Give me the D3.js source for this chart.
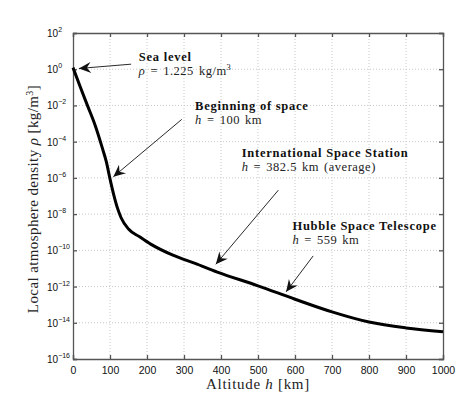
<!DOCTYPE html>
<html>
<head>
<meta charset="utf-8">
<script src="https://cdn.jsdelivr.net/npm/d3@7"></script>
<style>
  body { margin: 0; background: #fff; }
  svg { display: block; }
</style>
</head>
<body>
<script>
// altitude [km] and local density [kg/m^3]
const altitude = [0, 20, 40, 60, 80, 90, 100, 110, 120, 130, 150, 180, 210, 270, 330, 390, 500, 600, 700, 800, 900, 1000];
const density = [1.225, 1.0e-1, 8.9e-3, 7.9e-4, 4.0e-5, 7.9e-6, 8.9e-7, 1.2e-7, 2.2e-8, 6.3e-9, 1.5e-9, 5.6e-10,
                 2.2e-10, 5.4e-11, 1.9e-11, 6.3e-12, 1.1e-12, 2.0e-13, 4.0e-14, 1.1e-14, 5.2e-15, 3.2e-15];

const xTicks = [0, 100, 200, 300, 400, 500, 600, 700, 800, 900, 1000];
const yExponents = [2, 0, -2, -4, -6, -8, -10, -12, -14, -16];

// annotations: arrow tip, arrow tail and text anchor in data units
const notes = [
  { title: "Sea level", sub: "rho", tip: [16, 1.1], tail: [157, 1.9], text: [178, 2.8] },
  { title: "Beginning of space", sub: "h = 100 km", tip: [109, 1.15e-6], tail: [294, 1.7e-3], text: [330, 5.6e-3] },
  { title: "International Space Station", sub: "h = 382.5 km (average)", tip: [386, 1.7e-11], tail: [555, 2.1e-7], text: [456, 1.4e-5] },
  { title: "Hubble Space Telescope", sub: "h = 559 km", tip: [576, 5.1e-13], tail: [649, 4.9e-11], text: [593, 1.3e-9] }
];

const width = 474;
const height = 397;
const margin = { top: 33, right: 31, bottom: 38, left: 73 };
const w = width - margin.left - margin.right;
const h = height - margin.top - margin.bottom;

const serif = "'Liberation Serif', 'DejaVu Serif', serif";
const sans = "'Liberation Sans', Arial, sans-serif";

const svg = d3.select("body").append("svg")
    .attr("width", width)
    .attr("height", height);

svg.append("defs").append("marker")
    .attr("id", "head")
    .attr("viewBox", "-13 -6 15 12")
    .attr("refX", 0).attr("refY", 0)
    .attr("markerWidth", 15).attr("markerHeight", 12)
    .attr("markerUnits", "userSpaceOnUse")
    .attr("orient", "auto")
    .append("path")
    .attr("d", "M0,0 L-12,-5.5 L-8,0 L-12,5.5 Z")
    .attr("fill", "#111");

const g = svg.append("g")
    .attr("transform", `translate(${margin.left},${margin.top})`);

const x = d3.scaleLinear().domain([0, 1000]).range([0, w]);
const y = d3.scaleLog().domain([1e-16, 1e2]).range([h, 0]);

// dotted grid
g.append("g").selectAll("line").data(xTicks.slice(1, -1)).enter().append("line")
    .attr("x1", d => x(d)).attr("x2", d => x(d))
    .attr("y1", 0).attr("y2", h)
    .attr("stroke", "#c8c8c8").attr("stroke-width", 1)
    .attr("stroke-dasharray", "1,2");
g.append("g").selectAll("line").data(yExponents.slice(1, -1)).enter().append("line")
    .attr("x1", 0).attr("x2", w)
    .attr("y1", d => y(Math.pow(10, d))).attr("y2", d => y(Math.pow(10, d)))
    .attr("stroke", "#c8c8c8").attr("stroke-width", 1)
    .attr("stroke-dasharray", "1,2");

// axes with inward ticks on all four sides
const yVals = yExponents.map(e => Math.pow(10, e));
g.append("g").attr("transform", `translate(0,${h})`)
    .call(d3.axisBottom(x).tickValues(xTicks).tickSize(-4).tickPadding(8).tickFormat(d3.format("d")))
    .call(a => a.selectAll("text").attr("font-family", sans).attr("font-size", 10.5).attr("fill", "#111"));
g.append("g")
    .call(d3.axisTop(x).tickValues(xTicks).tickSize(-4).tickFormat(""));
g.append("g")
    .call(d3.axisLeft(y).tickValues(yVals).tickSize(-4).tickFormat(""));
g.append("g").attr("transform", `translate(${w},0)`)
    .call(d3.axisRight(y).tickValues(yVals).tickSize(-4).tickFormat(""));
g.selectAll(".domain, .tick line").attr("stroke", "#555").attr("stroke-width", 1.3);

// y tick labels: 10 with superscript exponent, left aligned
const yl = g.append("g").selectAll("text").data(yExponents).enter().append("text")
    .attr("x", -26)
    .attr("y", d => y(Math.pow(10, d)) + 4)
    .attr("font-family", sans).attr("font-size", 10).attr("fill", "#111");
yl.append("tspan").text("10");
yl.append("tspan").attr("dy", -5).attr("font-size", 7).text(d => d < 0 ? "\u2212" + (-d) : d);

// density curve
const pts = altitude.map((a, i) => [a, density[i]]);
g.append("path")
    .datum(pts)
    .attr("fill", "none")
    .attr("stroke", "#000")
    .attr("stroke-width", 3)
    .attr("stroke-linejoin", "round")
    .attr("d", d3.line().x(d => x(d[0])).y(d => y(d[1])).curve(d3.curveMonotoneX));

// annotations
notes.forEach(n => {
  g.append("line")
      .attr("x1", x(n.tail[0])).attr("y1", y(n.tail[1]))
      .attr("x2", x(n.tip[0])).attr("y2", y(n.tip[1]))
      .attr("stroke", "#111").attr("stroke-width", 0.9)
      .attr("marker-end", "url(#head)");
  const tx = x(n.text[0]), ty = y(n.text[1]);
  g.append("text").attr("x", tx).attr("y", ty)
      .attr("font-family", serif).attr("font-weight", "bold").attr("font-size", 12.5)
      .attr("letter-spacing", 0.75)
      .attr("fill", "#111").text(n.title);
  const s = g.append("text").attr("x", tx).attr("y", ty + 14)
      .attr("font-family", serif).attr("font-size", 12.5).attr("fill", "#222")
      .attr("letter-spacing", 0.5).attr("word-spacing", 1.5);
  if (n.sub === "rho") {
    s.append("tspan").attr("font-style", "italic").text("\u03c1");
    s.append("tspan").text(" = 1.225 kg/m");
    s.append("tspan").attr("dy", -5).attr("font-size", 8.5).text("3");
  } else {
    s.append("tspan").attr("font-style", "italic").text("h");
    s.append("tspan").text(n.sub.slice(1));
  }
});

// axis titles
const xt = svg.append("text")
    .attr("x", margin.left + w / 2).attr("y", 389)
    .attr("text-anchor", "middle")
    .attr("font-family", serif).attr("font-size", 15).attr("fill", "#222")
    .attr("letter-spacing", 0.7);
xt.append("tspan").text("Altitude ");
xt.append("tspan").attr("font-style", "italic").text("h");
xt.append("tspan").text(" [km]");

const ytl = svg.append("text")
    .attr("transform", `translate(38,199) rotate(-90)`)
    .attr("text-anchor", "middle")
    .attr("font-family", serif).attr("font-size", 15).attr("fill", "#222")
    .attr("letter-spacing", 0.4);
ytl.append("tspan").text("Local atmosphere density ");
ytl.append("tspan").attr("font-style", "italic").text("\u03c1");
ytl.append("tspan").text(" [kg/m");
ytl.append("tspan").attr("dy", -5).attr("font-size", 10).text("3");
ytl.append("tspan").attr("dy", 5).text("]");
</script>
</body>
</html>
